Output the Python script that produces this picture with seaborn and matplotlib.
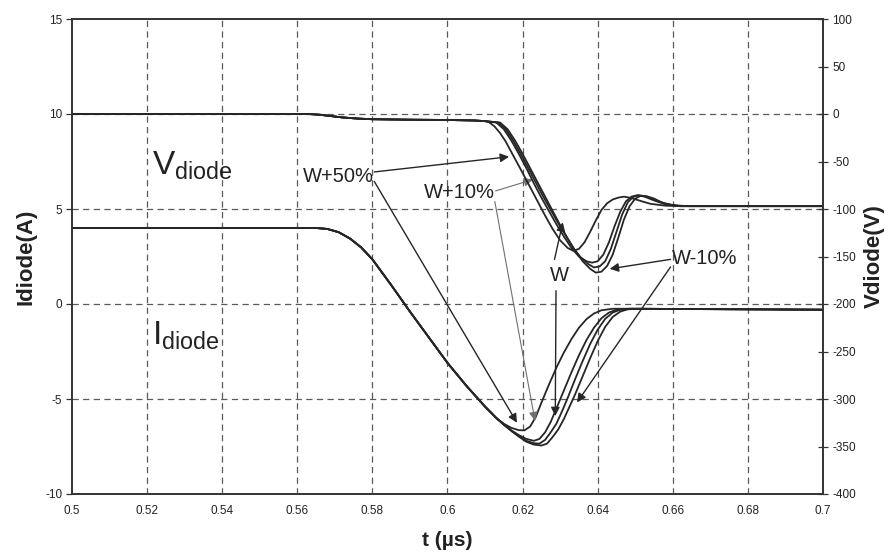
import numpy as np
import pandas as pd
import matplotlib
matplotlib.use("Agg")
import matplotlib.pyplot as plt
import seaborn as sns

# ---------------- data ----------------
cases = ["W+50%", "W+10%", "W", "W-10%"]

# common part of the diode current (A)
t_i_common = [0.500, 0.565, 0.568, 0.571, 0.574, 0.577, 0.580, 0.585, 0.590,
              0.595, 0.600, 0.605, 0.610, 0.613]
i_common = [4.0, 4.0, 3.95, 3.78, 3.45, 2.98, 2.35, 1.0, -0.4,
            -1.75, -3.1, -4.3, -5.4, -6.0]

t_i_w50 = [0.615, 0.617, 0.619, 0.6205, 0.622, 0.6235, 0.625, 0.627, 0.629, 0.631,
           0.633, 0.635, 0.637, 0.639, 0.641, 0.644, 0.648, 0.700]
i_w50 = [-6.3, -6.52, -6.64, -6.65, -6.45, -5.95, -5.2, -4.25, -3.35, -2.55,
         -1.85, -1.25, -0.8, -0.5, -0.33, -0.25, -0.25, -0.3]

t_i_w10 = [0.615, 0.617, 0.619, 0.621, 0.623, 0.6245, 0.626, 0.6275, 0.629, 0.631,
           0.633, 0.635, 0.637, 0.639, 0.641, 0.643, 0.645, 0.648, 0.700]
i_w10 = [-6.35, -6.65, -6.9, -7.1, -7.2, -7.1, -6.75, -6.2, -5.5, -4.55,
         -3.6, -2.7, -1.9, -1.25, -0.75, -0.45, -0.3, -0.25, -0.3]

t_i_w = [0.615, 0.617, 0.619, 0.621, 0.623, 0.6245, 0.626, 0.6275, 0.629, 0.6305,
         0.632, 0.634, 0.636, 0.638, 0.640, 0.642, 0.644, 0.646, 0.649, 0.700]
i_w = [-6.35, -6.67, -6.95, -7.2, -7.33, -7.35, -7.15, -6.75, -6.3, -5.65,
       -4.95, -3.95, -3.0, -2.1, -1.35, -0.78, -0.45, -0.3, -0.25, -0.3]

t_i_wm10 = [0.615, 0.617, 0.619, 0.621, 0.623, 0.625, 0.6265, 0.628, 0.6295, 0.631,
            0.6325, 0.634, 0.636, 0.638, 0.640, 0.642, 0.644, 0.646, 0.648, 0.651, 0.700]
i_wm10 = [-6.35, -6.68, -6.98, -7.25, -7.4, -7.45, -7.35, -7.0, -6.6, -6.05,
          -5.4, -4.75, -3.8, -2.85, -1.95, -1.2, -0.68, -0.4, -0.28, -0.25, -0.3]

# common part of the diode voltage (V)
t_v_common = [0.500, 0.563, 0.566, 0.569, 0.572, 0.576, 0.580, 0.590, 0.600, 0.607, 0.610]
v_common = [0.0, 0.0, -0.8, -2.2, -3.6, -4.8, -5.5, -6.0, -6.3, -6.8, -7.5]

t_v_w50 = [0.611, 0.6125, 0.614, 0.6155, 0.617, 0.6185, 0.620, 0.622, 0.624, 0.626,
           0.628, 0.630, 0.632, 0.6335, 0.635, 0.6365, 0.638, 0.6395, 0.641, 0.6425,
           0.644, 0.6455, 0.647, 0.649, 0.651, 0.654, 0.658, 0.662, 0.700]
v_w50 = [-8.5, -13, -20, -29, -40, -51, -62, -77, -92, -107,
         -121, -133, -141, -144, -142, -135, -124, -112, -101, -94,
         -90, -88, -87, -88.5, -91, -94.5, -96.5, -97, -97]

t_v_w10 = [0.613, 0.615, 0.617, 0.619, 0.621, 0.623, 0.625, 0.627, 0.629, 0.631,
           0.633, 0.635, 0.637, 0.6385, 0.640, 0.6415, 0.643, 0.6445, 0.646, 0.6475,
           0.649, 0.6505, 0.6525, 0.655, 0.658, 0.662, 0.700]
v_w10 = [-9, -16, -28, -42, -57, -73, -88, -102, -116, -129,
         -141, -150, -155, -156.5, -155, -148, -135, -118, -103, -92,
         -87, -85.5, -87, -91, -95, -97, -97]

t_v_w = [0.6135, 0.6155, 0.6175, 0.6195, 0.6215, 0.6235, 0.6255, 0.6275, 0.6295, 0.6315,
         0.6335, 0.6355, 0.6375, 0.639, 0.6405, 0.642, 0.6435, 0.645, 0.6465, 0.648,
         0.6495, 0.651, 0.653, 0.655, 0.658, 0.662, 0.700]
v_w = [-9, -16, -28, -42, -57, -72, -87, -101, -115, -128,
       -141, -151, -158, -161.5, -160.5, -155, -142, -124, -106, -93,
       -87, -85.5, -87, -90, -94.5, -97, -97]

t_v_wm10 = [0.614, 0.616, 0.618, 0.620, 0.622, 0.624, 0.626, 0.628, 0.630, 0.632,
            0.634, 0.636, 0.638, 0.6395, 0.641, 0.6425, 0.644, 0.6455, 0.647, 0.6485,
            0.650, 0.6515, 0.653, 0.655, 0.657, 0.660, 0.664, 0.700]
v_wm10 = [-9, -16, -28, -42, -57, -72, -87, -102, -117, -131,
          -144, -155, -163, -167, -166, -160, -148, -130, -111, -97,
          -89, -86, -86.5, -89, -93, -96, -97, -97]

x_ticks = [0.5, 0.52, 0.54, 0.56, 0.58, 0.6, 0.62, 0.64, 0.66, 0.68, 0.7]
x_tick_labels = ["0.5", "0.52", "0.54", "0.56", "0.58", "0.6", "0.62", "0.64", "0.66", "0.68", "0.7"]
i_ticks = [-10, -5, 0, 5, 10, 15]
v_ticks = [-400, -350, -300, -250, -200, -150, -100, -50, 0, 50, 100]

# ---------------- build long tables ----------------
i_parts = {"W+50%": (t_i_w50, i_w50), "W+10%": (t_i_w10, i_w10),
           "W": (t_i_w, i_w), "W-10%": (t_i_wm10, i_wm10)}
v_parts = {"W+50%": (t_v_w50, v_w50), "W+10%": (t_v_w10, v_w10),
           "W": (t_v_w, v_w), "W-10%": (t_v_wm10, v_wm10)}

rows_i, rows_v = [], []
for c in cases:
    tt, vv = i_parts[c]
    for t, v in zip(list(t_i_common) + list(tt), list(i_common) + list(vv)):
        rows_i.append((c, t, v))
    tt, vv = v_parts[c]
    for t, v in zip(list(t_v_common) + list(tt), list(v_common) + list(vv)):
        rows_v.append((c, t, v))
df_i = pd.DataFrame(rows_i, columns=["case", "t", "I"])
df_v = pd.DataFrame(rows_v, columns=["case", "t", "V"])

# ---------------- style ----------------
sns.set_theme(style="white")
plt.rcParams["font.family"] = ["Liberation Sans", "DejaVu Sans"]
plt.rcParams["axes.unicode_minus"] = False
plt.rcParams["mathtext.fontset"] = "custom"
plt.rcParams["mathtext.rm"] = "Liberation Sans"
plt.rcParams["mathtext.it"] = "Liberation Sans:italic"
plt.rcParams["mathtext.bf"] = "Liberation Sans:bold"

INK = "#262626"
GRID = "#5a5a5a"
pal = {c: INK for c in cases}

fig = plt.figure(figsize=(8.93, 5.56), dpi=100)
ax = fig.add_axes([72 / 893, 1 - 494 / 556, 751 / 893, 475 / 556])
ax2 = ax.twinx()

sns.lineplot(data=df_i, x="t", y="I", hue="case", palette=pal, estimator=None,
             sort=False, legend=False, lw=1.3, ax=ax)
sns.lineplot(data=df_v, x="t", y="V", hue="case", palette=pal, estimator=None,
             sort=False, legend=False, lw=1.3, ax=ax2)

ax.set_xlim(0.5, 0.7)
ax.set_ylim(-10, 15)
ax2.set_ylim(-400, 100)
ax.set_xticks(x_ticks)
ax.set_xticklabels(x_tick_labels)
ax.set_yticks(i_ticks)
ax2.set_yticks(v_ticks)

# dashed grid
for xv in x_ticks[1:-1]:
    ax.axvline(xv, color=GRID, lw=0.9, ls=(0, (5, 3.5)), zorder=0)
for yv in i_ticks[1:-1]:
    ax.axhline(yv, color=GRID, lw=0.9, ls=(0, (5, 3.5)), zorder=0)

for a in (ax, ax2):
    for s in a.spines.values():
        s.set_color("#333333")
        s.set_linewidth(1.2)
ax.tick_params(axis="x", direction="out", length=3, width=0.9, color="#333333",
               labelsize=8.5, labelcolor="#222222", pad=5)
ax.tick_params(axis="y", direction="out", length=4, width=0.9, color="#333333",
               labelsize=8.5, labelcolor="#222222", pad=3)
ax2.tick_params(axis="y", direction="inout", length=7, width=0.9, color="#333333",
                labelsize=8.5, labelcolor="#222222", pad=3)

ax.set_xlabel("t (µs)", fontsize=15, fontweight="bold", color="#222222", labelpad=10)
ax.set_ylabel("Idiode(A)", fontsize=16, fontweight="bold", color="#222222", labelpad=6)
ax2.set_ylabel("Vdiode(V)", fontsize=16, fontweight="bold", color="#222222", labelpad=6)

# ---------------- text annotations ----------------
ax.text(0.5213, 6.8, r"$\mathrm{V}_{\mathrm{diode}}$", fontsize=24, color="#222222",
        ha="left", va="baseline")
ax.text(0.5213, -2.15, r"$\mathrm{I}_{\mathrm{diode}}$", fontsize=24, color="#222222",
        ha="left", va="baseline")

lab_kw = dict(fontsize=14.5, color="#222222", ha="center", va="center")
ax.text(0.5710, 6.70, "W+50%", **lab_kw)
ax.text(0.6033, 5.88, "W+10%", **lab_kw)
ax.text(0.6298, 1.50, "W", **lab_kw)
ax.text(0.6686, 2.40, "W-10%", **lab_kw)

def arrow(start, tip, color=INK, lw=1.0):
    ax.annotate("", xy=tip, xytext=start,
                arrowprops=dict(arrowstyle="-|>", color=color, lw=lw,
                                mutation_scale=13, shrinkA=0, shrinkB=0))

arrow((0.5805, 6.95), (0.6164, 7.75))
arrow((0.5805, 6.45), (0.6185, -6.25))
arrow((0.6128, 5.95), (0.6227, 6.55), color="#707070", lw=0.8)
arrow((0.6126, 5.40), (0.6233, -6.15), color="#707070", lw=0.8)
arrow((0.6285, 2.35), (0.6307, 4.30))
arrow((0.6289, 0.70), (0.6287, -5.90))
arrow((0.6594, 2.35), (0.6432, 1.85))
arrow((0.6594, 1.95), (0.6345, -5.18))

fig.savefig("out.png", dpi=100, facecolor="white")
